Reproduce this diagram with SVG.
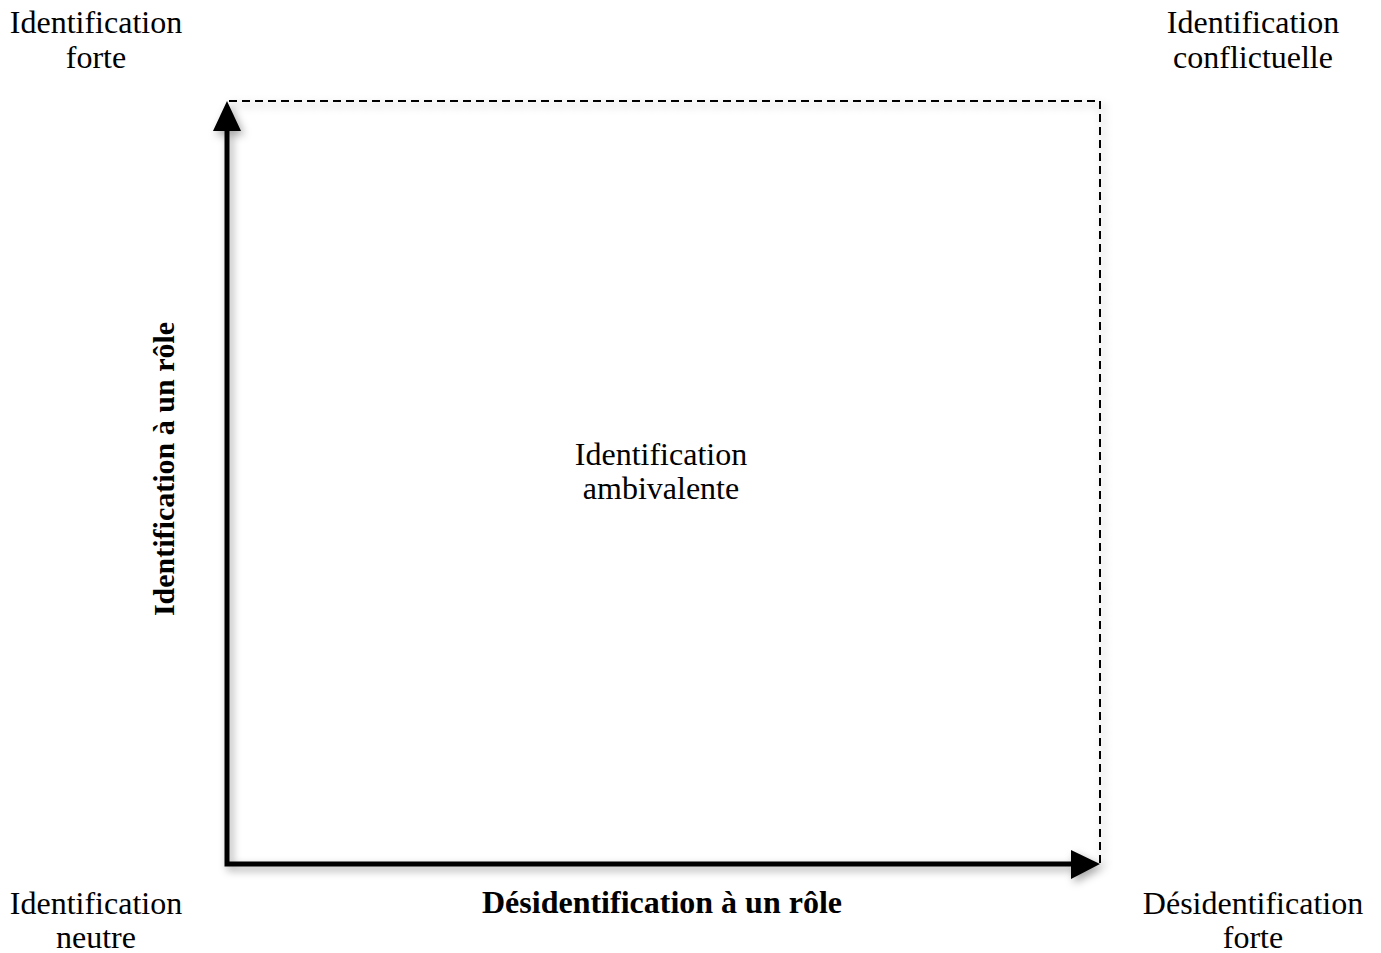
<svg xmlns="http://www.w3.org/2000/svg" width="1381" height="953" viewBox="0 0 1381 953">
<style>
.t{font-family:"Liberation Serif","Times New Roman",serif;font-size:32px;fill:#000;text-anchor:middle}
.b{font-weight:bold}
.v{font-size:30px}
.ax{stroke:#000;stroke-width:5;fill:none}
.dash{stroke:#000;stroke-width:2;fill:none;stroke-dasharray:8 5}
</style>
<defs>
<filter id="sh" x="-10%" y="-10%" width="120%" height="120%">
<feDropShadow dx="3" dy="4" stdDeviation="4" flood-color="#000" flood-opacity="0.35"/>
</filter>
</defs>
<rect width="1381" height="953" fill="#fff"/>
<g id="connectors" filter="url(#sh)">
<path class="dash" d="M229,101 H1100 V864"/>
<path class="ax" d="M227,130 V864 H1072"/>
<polygon points="227,101 213,131 241,131" fill="#000"/>
<polygon points="1100,864 1071,850 1071,879" fill="#000"/>
</g>
<g id="n-forte"><text class="t" x="96" y="33">Identification</text><text class="t" x="96" y="68">forte</text></g>
<g id="n-conflictuelle"><text class="t" x="1253" y="33">Identification</text><text class="t" x="1253" y="68">conflictuelle</text></g>
<g id="n-neutre"><text class="t" x="96" y="914">Identification</text><text class="t" x="96" y="948">neutre</text></g>
<g id="n-desid-forte"><text class="t" x="1253" y="914">Désidentification</text><text class="t" x="1253" y="948">forte</text></g>
<g id="n-ambivalente"><text class="t" x="661" y="465">Identification</text><text class="t" x="661" y="499">ambivalente</text></g>
<g id="label-x"><text class="t b" x="662" y="913">Désidentification à un rôle</text></g>
<g id="label-y"><text class="t b v" transform="translate(174,469) rotate(-90)" x="0" y="0">Identification à un rôle</text></g>
</svg>
